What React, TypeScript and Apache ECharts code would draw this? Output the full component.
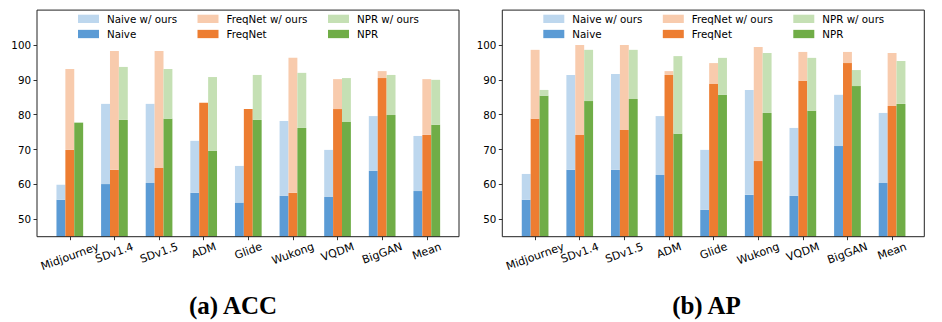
import React, { useEffect, useRef } from 'react';
import * as echarts from 'echarts';

// ---------- data ----------
const categories = ['Midjourney', 'SDv1.4', 'SDv1.5', 'ADM', 'Glide', 'Wukong', 'VQDM', 'BigGAN', 'Mean'];
const yTickValues = [50, 60, 70, 80, 90, 100];

const accNaive = [55.6, 60.1, 60.4, 57.6, 54.8, 56.7, 56.4, 63.9, 58.1];
const accNaiveOurs = [59.9, 83.1, 83.1, 72.5, 65.3, 78.2, 69.9, 79.6, 73.9];
const accFreqNet = [69.9, 64.2, 64.7, 83.4, 81.6, 57.6, 81.6, 90.5, 74.2];
const accFreqNetOurs = [93.1, 98.3, 98.3, 76.0, 76.9, 96.3, 90.2, 92.5, 90.2];
const accNPR = [77.7, 78.5, 78.8, 69.6, 78.5, 76.2, 77.9, 79.9, 77.1];
const accNPROurs = [77.9, 93.7, 93.1, 90.8, 91.4, 92.0, 90.5, 91.4, 90.0];

const apNaive = [55.6, 64.2, 64.2, 62.7, 52.7, 57.0, 56.7, 71.0, 60.4];
const apNaiveOurs = [63.0, 91.4, 91.7, 79.6, 69.9, 87.1, 76.2, 85.7, 80.5];
const apFreqNet = [78.8, 74.2, 75.6, 91.4, 88.8, 66.7, 89.7, 94.8, 82.5];
const apFreqNetOurs = [98.6, 100.0, 100.0, 92.5, 94.8, 99.4, 98.0, 98.0, 97.7];
const apNPR = [85.4, 83.9, 84.5, 74.5, 85.7, 80.5, 81.1, 88.2, 83.1];
const apNPROurs = [87.1, 98.6, 98.6, 96.8, 96.3, 97.7, 96.3, 92.8, 95.4];

const captions = ['(a) ACC', '(b) AP'];

// ---------- styles ----------
const COLORS = {
  naiveLight: '#BDD7EE',
  naive: '#5B9BD5',
  freqLight: '#F8CBAD',
  freq: '#ED7D31',
  nprLight: '#C5E0B4',
  npr: '#70AD47',
};
const Y_MIN = 45;
const Y_MAX = 110;
const TOP = 10.1;
const HEIGHT = 226.6;
const K = HEIGHT / (Y_MAX - Y_MIN);
const FRAME_W = 422;
const BARS_OFF = 10.5;
const BARS_W = 401.6;
const FONT = 'DejaVu Sans';
const FS = 10.3;
const XFS = 11;
const ROT = 20;

function measure(text: string, size: number): number {
  const c = document.createElement('canvas').getContext('2d');
  if (!c) return text.length * size * 0.6;
  c.font = `${size}px "${FONT}"`;
  return c.measureText(text).width;
}

export default function App() {
  const ref = useRef<HTMLDivElement>(null);

  useEffect(() => {
    if (!ref.current) return;
    const chart = echarts.init(ref.current, null, { renderer: 'svg' });

    const panels = [
      { frameLeft: 37, captionX: 233, base: [accNaive, accFreqNet, accNPR], ours: [accNaiveOurs, accFreqNetOurs, accNPROurs] },
      { frameLeft: 502.3, captionX: 706.5, base: [apNaive, apFreqNet, apNPR], ours: [apNaiveOurs, apFreqNetOurs, apNPROurs] },
    ];
    const methods = [
      { name: 'Naive', dark: COLORS.naive, light: COLORS.naiveLight },
      { name: 'FreqNet', dark: COLORS.freq, light: COLORS.freqLight },
      { name: 'NPR', dark: COLORS.npr, light: COLORS.nprLight },
    ];
    const legendOffsets = [41, 160.5, 291];

    const s20 = Math.sin((ROT * Math.PI) / 180);
    const c20 = Math.cos((ROT * Math.PI) / 180);
    const rich: Record<string, any> = {};
    categories.forEach((c, i) => {
      const d = (measure(c, XFS) * s20) / 2;
      rich[`c${i}`] = {
        fontFamily: FONT,
        fontSize: XFS,
        color: '#000',
        padding: [2 * d * c20, 2 * d * s20, 0, 0],
      };
    });

    const grid: any[] = [];
    const xAxis: any[] = [];
    const yAxis: any[] = [];
    const series: any[] = [];
    const legend: any[] = [];
    const graphic: any[] = [];

    panels.forEach((p, pi) => {
      const gFrame = grid.length;
      grid.push({ left: p.frameLeft, top: TOP, width: FRAME_W, height: HEIGHT, show: true, borderColor: '#222', borderWidth: 1, backgroundColor: 'transparent', z: 5 });
      xAxis.push({ gridIndex: gFrame, type: 'value', show: false });
      yAxis.push({ gridIndex: gFrame, type: 'value', show: false });

      const gBars = grid.length;
      grid.push({ left: p.frameLeft + BARS_OFF, top: TOP, width: BARS_W, height: HEIGHT, show: false });
      xAxis.push({
        gridIndex: gBars,
        type: 'category',
        data: categories,
        axisLine: { show: false },
        axisTick: { show: true, alignWithLabel: true, length: 3.5, lineStyle: { color: '#000', width: 0.8 } },
        axisLabel: {
          interval: 0,
          rotate: ROT,
          align: 'center',
          verticalAlign: 'middle',
          margin: 9.5,
          fontFamily: FONT,
          fontSize: XFS,
          color: '#000',
          formatter: (value: string, index: number) => `{c${index}|${value}}`,
          rich,
        },
      });
      yAxis.push({ gridIndex: gBars, type: 'value', min: Y_MIN, max: Y_MAX, show: false });

      const gLab = grid.length;
      const labTop = TOP + (Y_MAX - yTickValues[yTickValues.length - 1]) * K;
      const labH = (yTickValues[yTickValues.length - 1] - yTickValues[0]) * K;
      grid.push({ left: p.frameLeft, top: labTop, width: FRAME_W, height: labH, show: false });
      xAxis.push({ gridIndex: gLab, type: 'value', show: false });
      yAxis.push({
        gridIndex: gLab,
        type: 'value',
        min: yTickValues[0],
        max: yTickValues[yTickValues.length - 1],
        interval: yTickValues[1] - yTickValues[0],
        axisLine: { show: false },
        axisTick: { show: true, length: 3.5, lineStyle: { color: '#000', width: 0.8 } },
        splitLine: { show: false },
        axisLabel: { margin: 6, fontFamily: FONT, fontSize: FS, color: '#000' },
      });

      methods.forEach((m, mi) => {
        const base = p.base[mi];
        const ours = p.ours[mi];
        const stack = `p${pi}-${m.name}`;
        series.push({
          type: 'bar', name: m.name, stack, xAxisIndex: gBars, yAxisIndex: gBars,
          data: base, barWidth: 8.9, barGap: '0%', itemStyle: { color: m.dark }, silent: true,
        });
        series.push({
          type: 'bar', name: `${m.name} w/ ours`, stack, xAxisIndex: gBars, yAxisIndex: gBars,
          data: ours.map((v, i) => Math.max(0, +(v - base[i]).toFixed(2))), barWidth: 8.9, barGap: '0%',
          itemStyle: { color: m.light }, silent: true,
        });
        legend.push({
          left: p.frameLeft + legendOffsets[mi],
          top: 12.85,
          orient: 'vertical',
          padding: 0,
          itemWidth: 21,
          itemHeight: 8.3,
          itemGap: 3.15,
          icon: 'rect',
          selectedMode: false,
          data: [`${m.name} w/ ours`, m.name],
          textStyle: { fontFamily: FONT, fontSize: FS, color: '#000', lineHeight: 12, padding: [0, 0, 0, 3] },
        });
      });

      graphic.push({
        type: 'text',
        x: p.captionX,
        y: 305.8,
        style: {
          text: captions[pi],
          align: 'center',
          verticalAlign: 'middle',
          fontFamily: 'Liberation Serif',
          fontWeight: 'bold',
          fontSize: 25,
          fill: '#000',
        },
      });
    });

    chart.setOption({
      animation: false,
      backgroundColor: '#fff',
      grid,
      xAxis,
      yAxis,
      series,
      legend,
      graphic,
    });

    return () => chart.dispose();
  }, []);

  return (
    <div
      ref={ref}
      style={{ position: 'fixed', left: 0, top: 0, width: 942, height: 322, background: '#fff' }}
    />
  );
}
